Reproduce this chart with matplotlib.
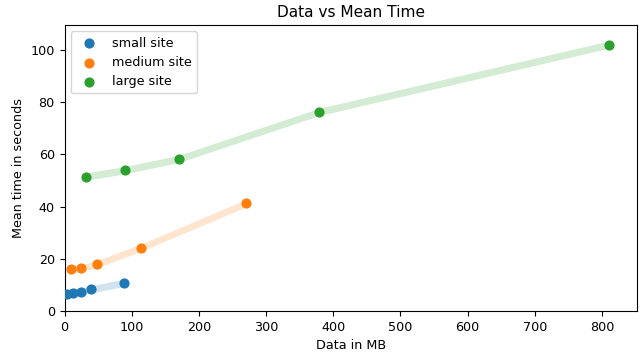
import numpy as np
import matplotlib.pyplot as plt

# data
small_mb = [3, 12, 24, 40, 88]
small_t = [6.6, 6.9, 7.4, 8.3, 10.8]
medium_mb = [9, 25, 49, 114, 270]
medium_t = [16.0, 16.4, 18.0, 24.3, 41.3]
large_mb = [32, 90, 170, 379, 810]
large_t = [51.5, 54.0, 58.3, 76.3, 102.1]

sites = [
    ("small site", small_mb, small_t, "tab:blue"),
    ("medium site", medium_mb, medium_t, "tab:orange"),
    ("large site", large_mb, large_t, "tab:green"),
]

plt.rcParams['font.size'] = 9.2

plt.figure(figsize=(6.4, 3.53), dpi=100)
for name, mb, t, c in sites:
    mb = np.array(mb)
    t = np.array(t)
    plt.fill_between(mb, t - 1.4, t + 1.4, color=c, alpha=0.2, linewidth=0)
    plt.scatter(mb, t, color=c, label=name, s=40, zorder=3)

plt.xlim(0, 852)
plt.ylim(0, 109.6)
plt.xlabel("Data in MB")
plt.ylabel("Mean time in seconds")
plt.title("Data vs Mean Time")
plt.legend(loc="upper left")
plt.subplots_adjust(left=0.1008, right=0.995, top=0.929, bottom=0.119)
plt.savefig("out.png", dpi=100)
